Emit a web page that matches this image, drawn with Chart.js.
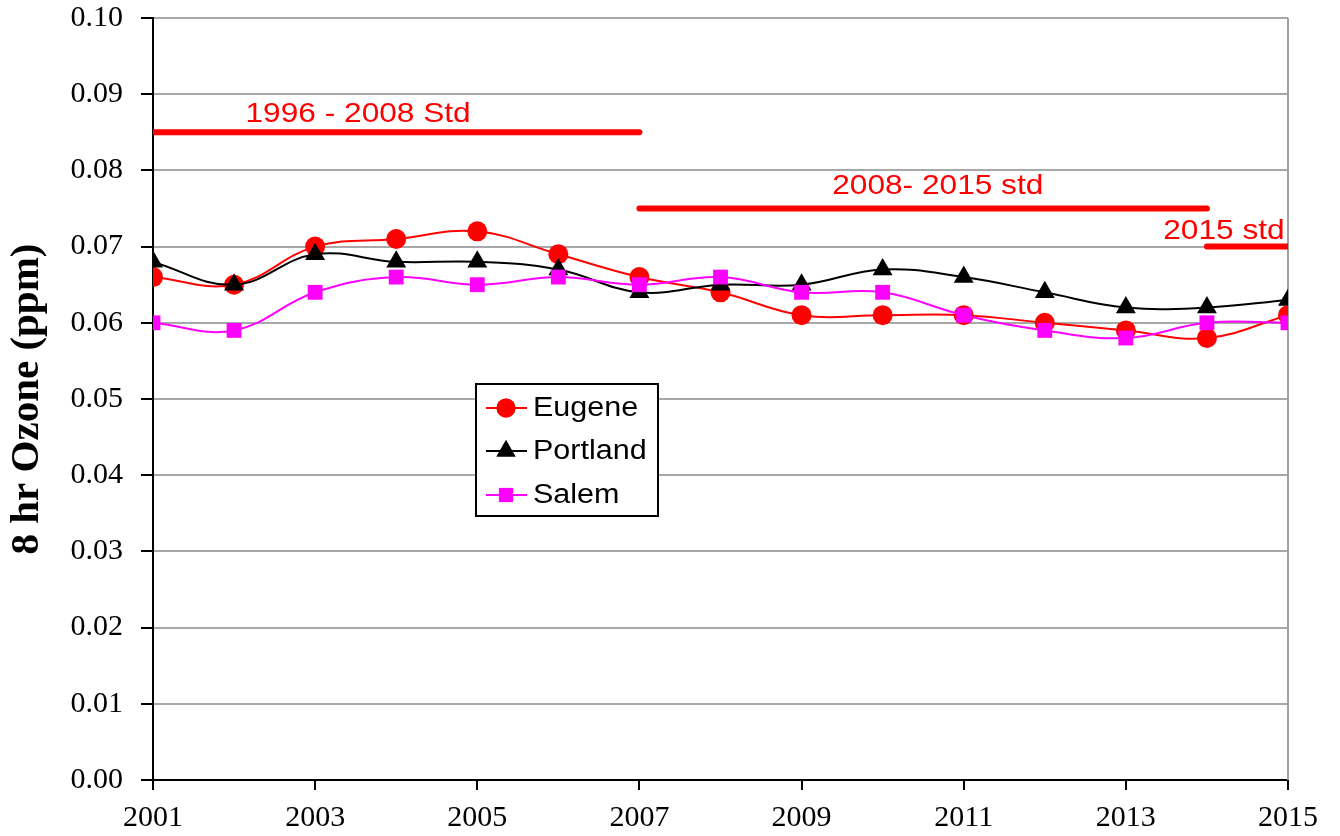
<!DOCTYPE html>
<html>
<head>
<meta charset="utf-8">
<script src="https://cdn.jsdelivr.net/npm/chart.js@4/dist/chart.umd.min.js"></script>
<style>
html,body{margin:0;padding:0;background:#fff;}
#wrap{position:relative;width:1340px;height:836px;}
</style>
</head>
<body>
<div id="wrap"><canvas id="c" width="1340" height="836"></canvas></div>
<script>
const years = [2001,2002,2003,2004,2005,2006,2007,2008,2009,2010,2011,2012,2013,2014,2015];
const eugene   = [0.066,0.065,0.070,0.071,0.072,0.069,0.066,0.064,0.061,0.061,0.061,0.060,0.059,0.058,0.061];
const portland = [0.068,0.065,0.069,0.068,0.068,0.067,0.064,0.065,0.065,0.067,0.066,0.064,0.062,0.062,0.063];
const salem    = [0.060,0.059,0.064,0.066,0.065,0.066,0.065,0.066,0.064,0.064,0.061,0.059,0.058,0.060,0.060];

const stdNames  = ['1996 - 2008 Std','2008- 2015 std','2015 std'];
const stdStart  = [2001,2007,2014];
const stdEnd    = [2007,2014,2015];
const stdValue  = [0.085,0.075,0.070];
const stdLabelX = [2003.53,2010.68,2014.21];
const stdLabelY = [0.0873,0.0779,0.0720];

const yTicks = [0,0.01,0.02,0.03,0.04,0.05,0.06,0.07,0.08,0.09,0.10];
const xTicks = [2001,2003,2005,2007,2009,2011,2013,2015];

const series = [
  {label:'Eugene', data:eugene, color:'#ff0000', style:'circle', r:10},
  {label:'Portland', data:portland, color:'#000000', style:'triangle', r:11.5},
  {label:'Salem', data:salem, color:'#ff00ff', style:'rect', r:10.5}
];

const datasets = [];
for (let i=0;i<stdNames.length;i++){
  datasets.push({
    label: stdNames[i],
    data: [{x:stdStart[i],y:stdValue[i]},{x:stdEnd[i],y:stdValue[i]}],
    borderColor:'#ff0000', borderWidth:6, pointRadius:0, borderCapStyle:'round',
    tension:0, order:5
  });
}
series.forEach((s,k)=>{
  datasets.push({
    label:s.label,
    data: years.map((y,i)=>({x:y,y:s.data[i]})),
    borderColor:s.color, backgroundColor:s.color, borderWidth:2,
    pointStyle:s.style, pointRadius:s.r, pointHoverRadius:s.r,
    pointBackgroundColor:s.color, pointBorderColor:s.color, pointBorderWidth:0,
    tension:0.4, order:3-k
  });
});

function stretchText(ctx, text, x, y, sx, align){
  ctx.save();
  ctx.translate(x, y);
  ctx.scale(sx, 1);
  ctx.textAlign = align; ctx.textBaseline = 'middle';
  ctx.fillText(text, 0, 0);
  ctx.restore();
}

const overlay = {
  id:'overlay',
  beforeDatasetsDraw(chart){
    const {ctx, chartArea:a} = chart;
    ctx.save();
    ctx.strokeStyle='#a0a0a0'; ctx.lineWidth=2;
    ctx.beginPath(); ctx.moveTo(a.right, a.top); ctx.lineTo(a.right, a.bottom); ctx.stroke();
    ctx.restore();
  },
  afterDatasetsDraw(chart){
    const {ctx, scales:{x,y}} = chart;
    ctx.save();
    ctx.fillStyle='#ff0000';
    ctx.font='28px "Liberation Sans", Arial, sans-serif';
    for (let i=0;i<stdNames.length;i++){
      stretchText(ctx, stdNames[i], x.getPixelForValue(stdLabelX[i]), y.getPixelForValue(stdLabelY[i]), 1.13, 'center');
    }
    // legend
    const lx=476, ly=384, lw=182, lh=132;
    ctx.fillStyle='#fff'; ctx.fillRect(lx,ly,lw,lh);
    ctx.strokeStyle='#000'; ctx.lineWidth=2; ctx.strokeRect(lx,ly,lw,lh);
    const rows=[408,451,495];
    series.forEach((s,k)=>{
      const cy=rows[k];
      ctx.strokeStyle=s.color; ctx.lineWidth=2;
      ctx.beginPath(); ctx.moveTo(486,cy); ctx.lineTo(527,cy); ctx.stroke();
      ctx.fillStyle=s.color;
      Chart.helpers.drawPoint(ctx,{pointStyle:s.style, radius:s.r*0.95, borderWidth:0}, 506, cy);
      ctx.fill();
      ctx.fillStyle='#000';
      ctx.font='27px "Liberation Sans", Arial, sans-serif';
      stretchText(ctx, s.label, 533, cy+1, 1.13, 'left');
    });
    ctx.restore();
  }
};

const serif = '"Liberation Serif", "Times New Roman", serif';
new Chart(document.getElementById('c'), {
  type:'line',
  data:{datasets},
  options:{
    responsive:false, animation:false, devicePixelRatio:1,
    layout:{padding:{left:0,top:18,right:52,bottom:0}},
    plugins:{legend:{display:false}, tooltip:{enabled:false}},
    scales:{
      x:{
        type:'linear', min:2001, max:2015,
        afterBuildTicks(s){ s.ticks = xTicks.map(v=>({value:v})); },
        afterFit(s){ s.height = 56; s.paddingLeft = 0; s.paddingRight = 0; },
        ticks:{color:'#000', font:{family:serif, size:30}, padding:10, maxRotation:0, callback:v=>String(v)},
        grid:{drawOnChartArea:false, drawTicks:true, tickLength:10, tickColor:'#000', tickWidth:2, lineWidth:2},
        border:{color:'#000', width:2}
      },
      y:{
        type:'linear', min:0, max:0.10,
        afterBuildTicks(s){ s.ticks = yTicks.map(v=>({value:v})); },
        afterFit(s){ s.width = 153; s.paddingTop = 0; s.paddingBottom = 0; },
        ticks:{color:'#000', font:{family:serif, size:30}, padding:18, callback:v=>Number(v).toFixed(2)},
        grid:{color:'#a8a8a8', lineWidth:2, drawTicks:true, tickLength:12, tickColor:'#000', tickWidth:2},
        border:{color:'#000', width:2},
        title:{display:true, text:'8 hr Ozone (ppm)', color:'#000', font:{family:serif, size:41, weight:'bold'}, padding:{top:3,bottom:0}}
      }
    }
  },
  plugins:[overlay]
});
</script>
</body>
</html>
